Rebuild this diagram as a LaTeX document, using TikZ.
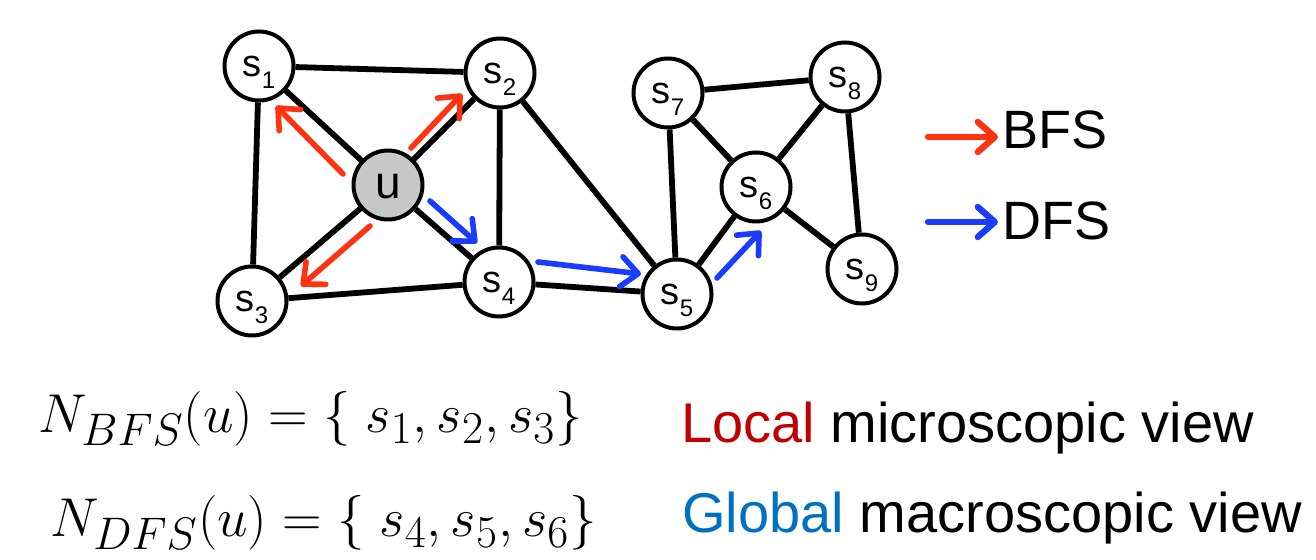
\documentclass[tikz,border=0pt]{standalone}
\usepackage{fontspec}
\newfontfamily\arialfont{Liberation Sans}
\usetikzlibrary{arrows.meta}
\newcommand{\nodesize}{34.5pt}
\newcommand{\slab}[1]{s\raisebox{-6pt}{\fontsize{12}{12}\selectfont #1}}
\newcommand{\bigmath}[1]{\scalebox{1.1}{\fontsize{24.88}{24.88}\selectfont $#1$}}
\definecolor{bfsred}{HTML}{FF3311}
\definecolor{dfsblue}{HTML}{1A3CFF}
\definecolor{localred}{HTML}{C00000}
\definecolor{globalblue}{HTML}{0070C0}

\begin{document}
\begin{tikzpicture}[x=0.5pt,y=-0.5pt,
    vert/.style={draw, circle, fill=white, line width=2pt, minimum size=\nodesize,
      inner sep=0pt, font=\arialfont\fontsize{19}{19}\selectfont,
      text height=12.5pt, text depth=2pt},
    seedvert/.style={vert, fill=black!22, font=\arialfont\fontsize{23}{23}\selectfont,
      text height=15pt, text depth=1.5pt},
    link/.style={line width=2.9pt},
    hop/.style={line width=2.8pt, line cap=round,
      -{Straight Barb[length=8.5pt,width=15pt,round]}},
    caption/.style={anchor=base west, inner sep=0pt}]

      \useasboundingbox (0,0) rectangle (1316,560);

          %% the graph: u in the middle, s1..s9 around it
      \node (s1) at (259,66)  [vert] {\slab{1}};
      \node (s2) at (500,73)  [vert] {\slab{2}};
      \node (u)  at (388,185) [seedvert] {u};
      \node (s3) at (252,301) [vert] {\slab{3}};
      \node (s4) at (499,282) [vert] {\slab{4}};
      \node (s5) at (677,294) [vert] {\slab{5}};
      \node (s7) at (668,93)  [vert] {\slab{7}};
      \node (s8) at (845,77)  [vert] {\slab{8}};
      \node (s6) at (756,187) [vert] {\slab{6}};
      \node (s9) at (862,269) [vert] {\slab{9}};
      \draw[link] (s1) -- (s2) (s1) -- (s3) (s1) -- (u) (s2) -- (u)
        (s3) -- (u) (s4) -- (u) (s2) -- (s4) (s2) -- (s5) (s3) -- (s4)
        (s4) -- (s5) (s5) -- (s7) (s5) -- (s6) (s7) -- (s6) (s7) -- (s8)
        (s6) -- (s8) (s6) -- (s9) (s8) -- (s9);

          %% search steps beside the edges
      \coordinate (b1a) at (343,174);  \coordinate (b1b) at (276,106);
      \coordinate (b2a) at (411,148);  \coordinate (b2b) at (462,94);
      \coordinate (b3a) at (370,226);  \coordinate (b3b) at (301,286);
      \coordinate (d1a) at (430,201);  \coordinate (d1b) at (477,243);
      \coordinate (d2a) at (538,262);  \coordinate (d2b) at (641,274);
      \coordinate (d3a) at (717,278);  \coordinate (d3b) at (761,231);
      \foreach \j in {1,2,3}
      { \draw[hop, bfsred] (b\j a) -- (b\j b);}
      \foreach \j in {1,2,3}
      { \draw[hop, dfsblue] (d\j a) -- (d\j b);}

          %% legend
      \node (bfs) at (1002,149) [caption, font=\arialfont\fontsize{27}{27}\selectfont] {BFS};
      \node (dfs) at (1002,240) [caption, font=\arialfont\fontsize{27}{27}\selectfont] {DFS};
      \coordinate (lb0) at (928,137);  \coordinate (lb1) at (998,137);
      \coordinate (ld0) at (928,222);  \coordinate (ld1) at (998,222);
      \draw[hop, bfsred, line width=3.2pt] (lb0) -- (lb1);
      \draw[hop, dfsblue, line width=3.2pt] (ld0) -- (ld1);

          %% neighbourhoods
      \node (nbfs) at (38,433) [caption]
        {\bigmath{N_{BFS}(u) = \{\; s_1, s_2, s_3 \}}};
      \node (ndfs) at (50,537) [caption]
        {\bigmath{N_{DFS}(u) = \{\; s_4, s_5, s_6 \}}};
      \node (local) at (681,443) [caption, font=\arialfont\fontsize{28}{28}\selectfont]
        {\textcolor{localred}{Local} microscopic view};
      \node (global) at (682,532) [caption, font=\arialfont\fontsize{28}{28}\selectfont]
        {\textcolor{globalblue}{Global} macroscopic view};

\end{tikzpicture}
\end{document}
